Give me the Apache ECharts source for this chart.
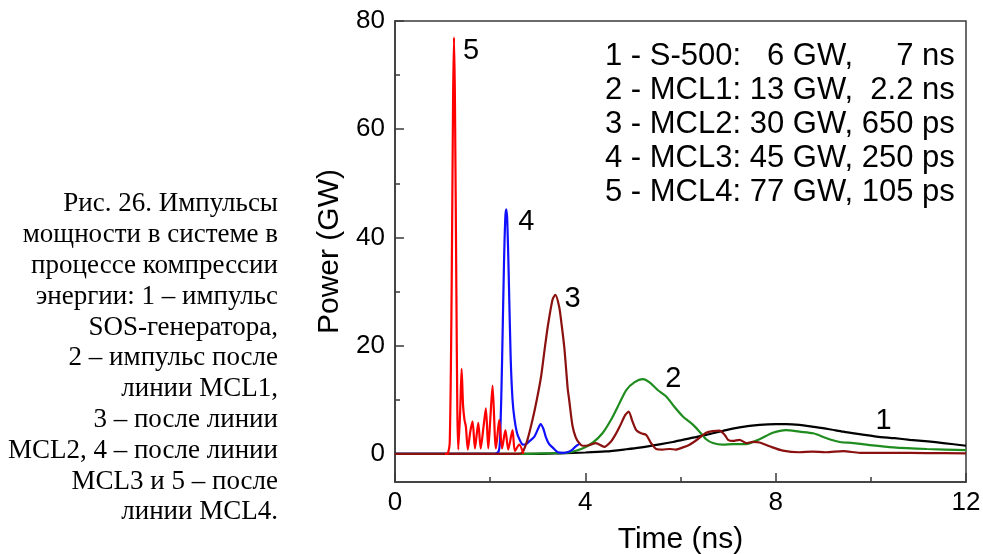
<!DOCTYPE html>
<html>
<head>
<meta charset="utf-8">
<script src="https://cdn.jsdelivr.net/npm/echarts@6/dist/echarts.min.js"></script>
<style>
html,body{margin:0;padding:0;background:#fff;}
#c{width:983px;height:554px;}
</style>
</head>
<body>
<div id="c"></div>
<script>
// ---- data (time in ns, power in GW) ----
const s1 = [[0,0],[3,0],[3.45,0.1],[4.0,0.25],[4.43,0.45],[4.86,0.85],[5.14,1.15],[5.56,1.75],[5.84,2.2],[6.26,3.0],[6.54,3.5],[6.96,4.4],[7.24,4.9],[7.66,5.35],[8.0,5.5],[8.22,5.5],[8.5,5.35],[8.79,5.0],[9.1,4.6],[9.42,4.1],[9.8,3.6],[10.12,3.2],[10.5,2.9],[10.82,2.6],[11.2,2.3],[11.52,2.0],[12,1.5]];
const s2 = [[0,0],[2.7,0],[3.2,0.1],[3.59,0.2],[3.73,0.4],[3.94,1.0],[4.16,2.1],[4.36,3.8],[4.54,6.3],[4.72,9.4],[4.86,11.8],[5.03,13.2],[5.21,13.8],[5.35,13.2],[5.52,11.8],[5.70,10.6],[5.87,8.7],[6.05,6.9],[6.26,5.4],[6.4,4.1],[6.54,2.7],[6.68,2.0],[6.89,1.7],[7.1,1.8],[7.38,1.8],[7.66,2.7],[7.94,3.9],[8.22,4.4],[8.5,4.1],[8.79,3.8],[9.07,2.9],[9.35,2.2],[9.63,2.0],[9.91,1.7],[10.47,1.2],[11.18,0.9],[12,0.7]];
const s3 = [[0,0],[2.6,0],[2.68,0.3],[2.78,2.5],[2.89,6.3],[2.98,10],[3.07,14.3],[3.14,19],[3.21,23.5],[3.31,28.5],[3.37,29.4],[3.45,27.2],[3.50,24],[3.56,19.5],[3.63,12],[3.66,10],[3.73,5.2],[3.80,3.0],[3.87,2.0],[3.94,1.5],[4.08,1.6],[4.22,2.0],[4.40,1.3],[4.54,2.3],[4.63,3.5],[4.72,5.0],[4.84,7.2],[4.91,7.8],[4.99,6.0],[5.07,4.4],[5.17,3.8],[5.28,3.5],[5.38,2.0],[5.49,0.9],[5.62,0.8],[5.77,0.9],[5.90,0.8],[6.05,1.2],[6.19,1.7],[6.36,2.7],[6.54,3.9],[6.68,4.2],[6.82,4.3],[6.93,3.5],[7.0,2.6],[7.1,2.4],[7.24,2.6],[7.38,2.0],[7.52,2.2],[7.66,2.1],[7.87,1.4],[8.15,0.6],[8.5,0.3],[8.77,0.4],[9.05,0.3],[9.42,0.5],[9.77,0.2],[10.48,0.2],[11.18,0.15],[12,0.1]];
const s4 = [[0,0],[2.1,0],[2.18,0.5],[2.21,3],[2.25,17],[2.29,35],[2.32,44],[2.34,45.2],[2.36,43],[2.39,33],[2.43,18],[2.47,10],[2.51,6.5],[2.56,4],[2.61,2.8],[2.69,1.7],[2.76,1.8],[2.82,2.3],[2.93,3.2],[3.0,4.5],[3.06,5.5],[3.12,4.6],[3.17,3.1],[3.24,1.8],[3.31,1.2],[3.42,0.3],[3.55,0.2],[3.65,0.4],[3.73,0.8],[3.80,1.4],[3.87,1.8]];
const s5 = [[1.05,0],[1.10,0],[1.15,2],[1.19,30],[1.22,65],[1.24,77],[1.26,65],[1.29,30],[1.31,8],[1.33,0.8],[1.37,8],[1.40,15.7],[1.43,9],[1.46,6.3],[1.49,5],[1.53,0.8],[1.58,4],[1.63,6.0],[1.68,1.0],[1.75,5.8],[1.80,1.0],[1.86,5],[1.91,8.4],[1.96,1.0],[2.00,6],[2.05,12.6],[2.10,3],[2.12,1.0],[2.19,6.3],[2.25,1.0],[2.32,4.4],[2.38,0.8],[2.47,4.4],[2.52,0.5],[2.61,1.7],[2.70,0]];

const seriesNames = ['1','2','3','4','5'];
const seriesColors = ['#000000','#1e8c1e','#8b1010','#1010ff','#ff0000'];
// curve number labels: [time, power]
const curveLabelPos = [[10.27,6.0],[5.85,13.9],[3.73,28.6],[2.76,42.8],[1.60,74.5]];

const xTicksMajor = [0,4,8,12];
const yTicksMajor = [0,20,40,60,80];
const yTicksMinor = [10,30,50,70];

const legendLines = [
  '1 - S-500:   6 GW,     7 ns',
  '2 - MCL1: 13 GW,  2.2 ns',
  '3 - MCL2: 30 GW, 650 ps',
  '4 - MCL3: 45 GW, 250 ps',
  '5 - MCL4: 77 GW, 105 ps'
];
const captionLines = [
  'Рис. 26. Импульсы',
  'мощности в системе в',
  'процессе компрессии',
  'энергии: 1 – импульс',
  'SOS-генератора,',
  '2 – импульс после',
  'линии MCL1,',
  '3 – после линии',
  'MCL2, 4 – после линии',
  'MCL3 и 5 – после',
  'линии MCL4.'
];

const allData = [s1,s2,s3,s4,s5];
const drawOrder = [0,1,3,2,4];

const chart = echarts.init(document.getElementById('c'), null, {renderer:'canvas'});
const FONT = 'Liberation Sans, Arial, sans-serif';
const axisColor = '#3a3a3a';

const series = drawOrder.map((i, k) => ({
  name: seriesNames[i],
  type: 'line',
  data: allData[i],
  showSymbol: false,
  smooth: 0.25,
  z: 2 + k,
  lineStyle: {color: seriesColors[i], width: 2.2},
  itemStyle: {color: seriesColors[i]},
  animation: false
}));
series.push({
  name: 'labels',
  type: 'scatter',
  z: 20,
  silent: true,
  symbolSize: 2,
  itemStyle: {color: 'rgba(0,0,0,0)'},
  data: curveLabelPos.map((p, i) => ({value: p, name: seriesNames[i]})),
  label: {show: true, position: 'inside', formatter: (p) => p.name, color: '#000', fontFamily: FONT, fontSize: 29, opacity: 1},
  labelLayout: {hideOverlap: false},
  animation: false
});

chart.setOption({
  backgroundColor: '#fff',
  animation: false,
  grid: {left: 395, right: 17, top: 21, bottom: 72, outerBoundsMode: 'none', containLabel: false, show: true, borderColor: axisColor, borderWidth: 1.5, backgroundColor: 'transparent'},
  xAxis: {
    type: 'value', min: 0, max: 12, interval: 4,
    name: 'Time (ns)', nameLocation: 'middle', nameGap: 43,
    nameTextStyle: {fontFamily: FONT, fontSize: 30, color: '#000'},
    axisLine: {show: true, onZero: false, lineStyle: {color: axisColor, width: 1.5}},
    axisTick: {show: true, inside: true, length: 9, lineStyle: {color: axisColor, width: 1.5}},
    minorTick: {show: true, splitNumber: 2, length: 5, lineStyle: {color: axisColor, width: 1.5}},
    splitLine: {show: false},
    axisLabel: {fontFamily: FONT, fontSize: 26, color: '#000', margin: 8,
      customValues: xTicksMajor}
  },
  yAxis: [{
    type: 'value', min: -5.2, max: 80,
    name: 'Power (GW)', nameLocation: 'middle', nameGap: 48,
    nameTextStyle: {fontFamily: FONT, fontSize: 30, color: '#000'},
    axisLine: {show: true, onZero: false, lineStyle: {color: axisColor, width: 1.5}},
    axisTick: {show: true, inside: true, length: 9, customValues: yTicksMajor, lineStyle: {color: axisColor, width: 1.5}},
    splitLine: {show: false},
    axisLabel: {fontFamily: FONT, fontSize: 26, color: '#000', margin: 10, customValues: yTicksMajor}
  }, {
    type: 'value', min: -5.2, max: 80, position: 'left',
    axisLine: {show: false},
    axisTick: {show: true, inside: true, length: 5, customValues: yTicksMinor, lineStyle: {color: axisColor, width: 1.5}},
    axisLabel: {show: false},
    splitLine: {show: false}
  }],
  series: series,
  graphic: [
    {type: 'text', left: 605, top: 39, z: 100, silent: true,
     style: {text: legendLines.join('\n'), font: '31px ' + FONT, fill: '#000', lineHeight: 34}},
    {type: 'text', x: 278, y: 189, z: 100, silent: true,
     style: {text: captionLines.join('\n'), font: '27px Liberation Serif, Times New Roman, serif', fill: '#000', lineHeight: 30.8, align: 'right'}}
  ]
});
</script>
</body>
</html>
